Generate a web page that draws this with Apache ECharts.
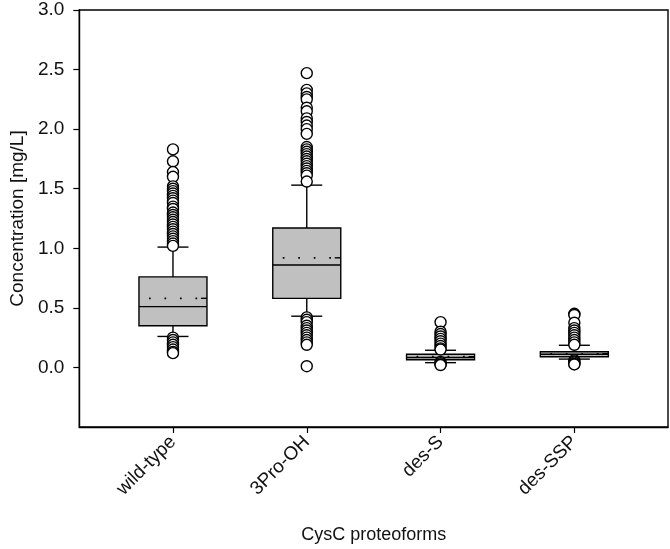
<!DOCTYPE html>
<html><head><meta charset="utf-8">
<script src="https://cdn.jsdelivr.net/npm/echarts@6/dist/echarts.min.js"></script>
<style>html,body{margin:0;padding:0;background:#fff}#c{width:670px;height:549px}</style>
</head><body><div id="c"></div>
<script>
var categories = ['wild-type', '3Pro-OH', 'des-S', 'des-SSP'];
var lowerWhisker = [0.26, 0.43, 0.04, 0.07];
var q1 = [0.35, 0.58, 0.064, 0.089];
var median = [0.51, 0.86, 0.083, 0.11];
var q3 = [0.76, 1.17, 0.111, 0.131];
var upperWhisker = [1.01, 1.53, 0.144, 0.186];
var mean = [0.58, 0.92, 0.09, 0.115];
var yTicks = [0, 0.5, 1.0, 1.5, 2.0, 2.5, 3.0];

var wildTypeOutliers = [1.83, 1.73, 1.64, 1.60, 1.52, 1.50, 1.48, 1.46, 1.44, 1.42, 1.40, 1.38, 1.35, 1.33, 1.30, 1.28, 1.26, 1.24, 1.22, 1.20, 1.18, 1.16, 1.14, 1.12, 1.10, 1.08, 1.06, 1.04, 1.02,
  0.25, 0.23, 0.21, 0.19, 0.17, 0.15, 0.13, 0.12];
var threeProOutliers = [2.47, 2.33, 2.30, 2.27, 2.25, 2.18, 2.15, 2.09, 2.06, 2.03, 2.00, 1.96, 1.85, 1.83, 1.81, 1.79, 1.77, 1.75, 1.73, 1.71, 1.69, 1.67, 1.65, 1.63, 1.61, 1.56,
  0.42, 0.40, 0.38, 0.35, 0.33, 0.31, 0.29, 0.27, 0.25, 0.23, 0.21, 0.19, 0.01];
var desSOutliers = [0.38, 0.30, 0.28, 0.26, 0.24, 0.22, 0.20, 0.18, 0.16, 0.15, 0.045, 0.035, 0.025, 0.02];
var desSSPOutliers = [0.45, 0.44, 0.375, 0.33, 0.31, 0.29, 0.27, 0.25, 0.23, 0.21, 0.19, 0.06, 0.05, 0.04, 0.03, 0.025];
var outlierGroups = [wildTypeOutliers, threeProOutliers, desSOutliers, desSSPOutliers];

var boxData = categories.map(function (c, i) {
  return [i + 1, lowerWhisker[i], q1[i], median[i], q3[i], upperWhisker[i], mean[i]];
});
var outlierData = [];
outlierGroups.forEach(function (g, i) {
  g.forEach(function (v) { outlierData.push([i + 1, v]); });
});

var FONT = 'Liberation Sans, Arial, sans-serif';
var BOX_W = 68, CAP_W = 31;

function renderBox(params, api) {
  var x = api.value(0);
  var pLo = api.coord([x, api.value(1)]);
  var pQ1 = api.coord([x, api.value(2)]);
  var pMed = api.coord([x, api.value(3)]);
  var pQ3 = api.coord([x, api.value(4)]);
  var pHi = api.coord([x, api.value(5)]);
  var pMean = api.coord([x, api.value(6)]);
  var cx = pMed[0];
  var l = cx - BOX_W / 2, r = cx + BOX_W / 2;
  var ls = {stroke: '#000', lineWidth: 1.4};
  return {
    type: 'group',
    children: [
      {type: 'line', shape: {x1: cx, y1: pQ3[1], x2: cx, y2: pHi[1]}, style: ls},
      {type: 'line', shape: {x1: cx, y1: pQ1[1], x2: cx, y2: pLo[1]}, style: ls},
      {type: 'line', shape: {x1: cx - CAP_W / 2, y1: pHi[1], x2: cx + CAP_W / 2, y2: pHi[1]}, style: ls},
      {type: 'line', shape: {x1: cx - CAP_W / 2, y1: pLo[1], x2: cx + CAP_W / 2, y2: pLo[1]}, style: ls},
      {type: 'rect', shape: {x: l, y: pQ3[1], width: BOX_W, height: pQ1[1] - pQ3[1]},
        style: {fill: '#c0c0c0', stroke: '#000', lineWidth: 1.4}},
      {type: 'line', shape: {x1: l, y1: pMed[1], x2: r, y2: pMed[1]}, style: ls},
      {type: 'line', shape: {x1: l, y1: pMean[1], x2: r - 6, y2: pMean[1]},
        style: {stroke: '#000', lineWidth: 1.7, lineDash: [1.7, 13.8], lineDashOffset: 5.5}},
      {type: 'line', shape: {x1: r - 6, y1: pMean[1], x2: r, y2: pMean[1]}, style: ls}
    ]
  };
}

var chart = echarts.init(document.getElementById('c'), null, {renderer: 'canvas'});
chart.setOption({
  animation: false,
  backgroundColor: '#fff',
  grid: {left: 79, right: 2, top: 10, bottom: 120, show: true, borderColor: '#000', borderWidth: 1.4, backgroundColor: 'transparent'},
  xAxis: {
    type: 'value', min: 0.3, max: 4.7,
    name: 'CysC proteoforms', nameLocation: 'middle', nameGap: 99,
    nameTextStyle: {fontFamily: FONT, fontSize: 18, color: '#111'},
    axisLine: {show: true, onZero: false, lineStyle: {color: '#000', width: 1.4}},
    axisTick: {show: true, customValues: [1, 2, 3, 4], length: 6, inside: false, lineStyle: {color: '#000', width: 1.2}},
    axisLabel: {customValues: [1, 2, 3, 4], rotate: 45, margin: 12, fontFamily: FONT, fontSize: 19, color: '#111',
      formatter: function (v) { return categories[Math.round(v) - 1] || ''; }},
    splitLine: {show: false}
  },
  yAxis: {
    type: 'value', min: -0.5, max: 3.0, interval: 0.5,
    name: 'Concentration [mg/L]', nameLocation: 'middle', nameGap: 50,
    nameTextStyle: {fontFamily: FONT, fontSize: 19, color: '#111'},
    axisLine: {show: true, onZero: false, lineStyle: {color: '#000', width: 1.4}},
    axisTick: {show: true, customValues: yTicks, length: 6, inside: false, lineStyle: {color: '#000', width: 1.2}},
    axisLabel: {customValues: yTicks, margin: 15, fontFamily: FONT, fontSize: 19, color: '#111',
      formatter: function (v) { return v.toFixed(1); }},
    splitLine: {show: false}
  },
  series: [
    {type: 'custom', data: boxData, renderItem: renderBox, z: 2,
      encode: {x: 0, y: [1, 2, 3, 4, 5, 6]}},
    {type: 'scatter', data: outlierData, symbol: 'circle', symbolSize: 11, z: 5,
      itemStyle: {color: '#fff', borderColor: '#000', borderWidth: 1.4, opacity: 1}}
  ]
});
</script>
</body></html>
